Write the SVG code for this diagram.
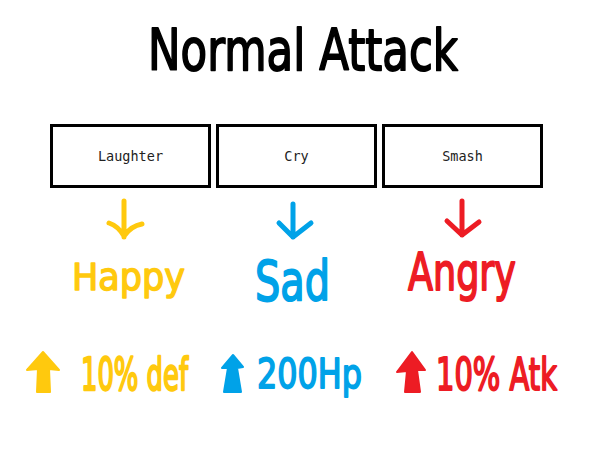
<svg xmlns="http://www.w3.org/2000/svg" width="600" height="450" viewBox="0 0 600 450">
<style>
.hand{font-family:"DejaVu Sans","Liberation Sans",sans-serif;stroke-width:1.4;stroke-linejoin:round;}
.box{fill:#fff;stroke:#000;stroke-width:3;}
.lbl{font-family:"DejaVu Sans Mono","Liberation Mono",monospace;font-size:13.5px;fill:#222;text-anchor:middle;}
.arr{fill:none;stroke-width:5;stroke-linecap:round;stroke-linejoin:round;}
.y{fill:#FFC90E;stroke:#FFC90E;}
.b{fill:#00A2E8;stroke:#00A2E8;}
.r{fill:#ED1C24;stroke:#ED1C24;}
.k{fill:#000;stroke:#000;}
</style>
<rect width="600" height="450" fill="#fff"/>
<g id="title">
<text class="hand k" transform="translate(148,70) scale(1,1.33)" font-size="43.3" textLength="310" lengthAdjust="spacingAndGlyphs">Normal Attack</text>
</g>
<g id="node-laughter">
<rect class="box" x="51.5" y="125.5" width="158" height="61"/>
<text class="lbl" x="130.5" y="161">Laughter</text>
</g>
<g id="node-cry">
<rect class="box" x="217.5" y="125.5" width="158" height="61"/>
<text class="lbl" x="296.5" y="161">Cry</text>
</g>
<g id="node-smash">
<rect class="box" x="383.5" y="125.5" width="158" height="61"/>
<text class="lbl" x="462.5" y="161">Smash</text>
</g>
<g id="connectors">
<path class="arr y" style="fill:none" d="M124,201 L124,237 M109,223 Q118,226 124,236 Q131,226 142,224"/>
<path class="arr b" style="fill:none" d="M293,204 L293,237 M279,223 L293,237 L311,223"/>
<path class="arr r" style="fill:none" d="M462,201 L462,235 M447,221 L462,235 L479,222"/>
</g>
<g id="node-happy">
<text class="hand y" transform="translate(72,290) scale(1,1.06)" font-size="35" textLength="113" lengthAdjust="spacingAndGlyphs">Happy</text>
</g>
<g id="node-sad">
<text class="hand b" transform="translate(255,300) scale(1,1.38)" font-size="39.8" textLength="75" lengthAdjust="spacingAndGlyphs">Sad</text>
</g>
<g id="node-angry">
<text class="hand r" transform="translate(408,290) scale(1,1.43)" font-size="36.5" textLength="108" lengthAdjust="spacingAndGlyphs">Angry</text>
</g>
<g id="stat-def">
<path class="y" stroke-width="2" stroke-linejoin="round" d="M43,352 L59,370 L49,369 L50,392 L37,392 L38,369 L27,370 Z"/>
<text class="hand y" transform="translate(81,390) scale(1,1.7)" font-size="25.8" textLength="107" lengthAdjust="spacingAndGlyphs">10% def</text>
</g>
<g id="stat-hp">
<path class="b" stroke-width="2" stroke-linejoin="round" d="M233,355 L243,367 L237,368 L241,392 L224,392 L228,368 L222,368 Z"/>
<text class="hand b" transform="translate(257,388) scale(1,1.29)" font-size="31.9" textLength="105" lengthAdjust="spacingAndGlyphs">200Hp</text>
</g>
<g id="stat-atk">
<path class="r" stroke-width="2" stroke-linejoin="round" d="M412,352 L425,370 L417,370 L420,392 L405,392 L407,371 L397,372 Z"/>
<text class="hand r" transform="translate(436,390) scale(1,1.52)" font-size="28.8" textLength="121" lengthAdjust="spacingAndGlyphs">10% Atk</text>
</g>
</svg>
